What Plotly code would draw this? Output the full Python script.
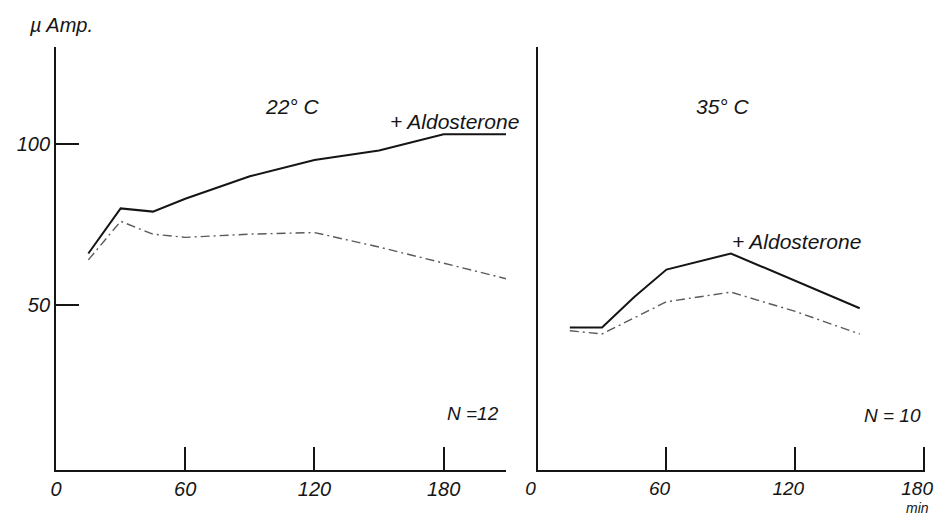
import plotly.graph_objects as go

# ---- data ----
t_left = [15, 30, 45, 60, 90, 120, 150, 180, 210]
aldo_22 = [66, 80, 79, 83, 90, 95, 98, 103, 103]
ctrl_22 = [64, 76, 72, 71, 72, 72.5, 68, 63, 58]

t_right = [15, 30, 45, 60, 90, 120, 150]
aldo_35 = [43, 43, 52.5, 61, 66, 57.5, 49]
ctrl_35 = [42, 41, 46, 51, 54, 48, 41]

x_ticks = [0, 60, 120, 180]
y_ticks = [50, 100]

W, H = 943, 515
def px(x): return x / W
def py(y): return 1 - y / H

FONT = "Liberation Sans"
INK = "#151515"
fig = go.Figure()

DASH = "9px,4px,2px,4px"
fig.add_trace(go.Scatter(x=t_left, y=aldo_22, mode="lines", line=dict(color=INK, width=2),
                         xaxis="x", yaxis="y", cliponaxis=False, showlegend=False))
fig.add_trace(go.Scatter(x=t_left, y=ctrl_22, mode="lines", line=dict(color="#5a5a5a", width=1.4, dash=DASH),
                         xaxis="x", yaxis="y", cliponaxis=False, showlegend=False))
fig.add_trace(go.Scatter(x=t_right, y=aldo_35, mode="lines", line=dict(color=INK, width=2),
                         xaxis="x2", yaxis="y2", cliponaxis=False, showlegend=False))
fig.add_trace(go.Scatter(x=t_right, y=ctrl_35, mode="lines", line=dict(color="#5a5a5a", width=1.4, dash=DASH),
                         xaxis="x2", yaxis="y2", cliponaxis=False, showlegend=False))

# vertical: 100 at y=144 px, 50 at y=305 px, baseline 470, top 47
PPU = 3.22
Y0 = 466.0
ydom = [py(470), py(47)]
yrange = [(Y0 - 470) / PPU, (Y0 - 47) / PPU]
tickfont = dict(family=FONT, size=20, color=INK, style="italic")

common_x = dict(showgrid=False, zeroline=False, showline=True, linecolor=INK, linewidth=2,
                ticks="inside", ticklen=23, tickwidth=1.5, tickcolor=INK,
                tickvals=x_ticks, ticktext=[str(v) for v in x_ticks], tickfont=tickfont)
common_y = dict(showgrid=False, zeroline=False, showline=True, linecolor=INK, linewidth=2,
                range=yrange, domain=ydom)

fig.update_layout(
    width=W, height=H, margin=dict(l=0, r=0, t=0, b=0),
    paper_bgcolor="white", plot_bgcolor="rgba(0,0,0,0)",
    xaxis=dict(common_x, domain=[px(45), px(45 + 209 * 2.2)], range=[0, 209], anchor="y"),
    yaxis=dict(common_y, anchor="x", ticks="inside", ticklen=23, tickwidth=1.5, tickcolor=INK,
               tickvals=y_ticks, ticktext=[str(v) for v in y_ticks], tickfont=tickfont),
    xaxis2=dict(common_x, domain=[px(537), px(933)], range=[0, 180.5], anchor="y2",
                ticklabelshift=-7, tickfont=dict(tickfont, size=19)),
    yaxis2=dict(common_y, anchor="x2", showticklabels=False, ticks=""),
)

def note(x, y, text, size=16):
    fig.add_annotation(x=px(x), y=py(y), xref="paper", yref="paper", text=text, showarrow=False,
                       xanchor="center", yanchor="middle",
                       font=dict(family=FONT, size=size, color=INK, style="italic"))

note(50, 25, "µ Amp.", 20)
note(287, 107, "22° C", 21)
note(452, 122, "+ Aldosterone", 21)
note(471, 413, "N =12", 19)
note(726, 107, "35° C", 21)
note(802, 242, "+ Aldosterone", 21)
note(900, 415, "N = 10", 19)
note(925, 508, "min", 14)

fig.write_html("out.html", config={"displayModeBar": False},
               post_script="document.body.style.margin='0';document.body.style.overflow='hidden';"
                           "document.documentElement.style.overflow='hidden';"
                           "document.querySelectorAll('.main-svg').forEach(function(s){s.style.overflow='hidden';});")
